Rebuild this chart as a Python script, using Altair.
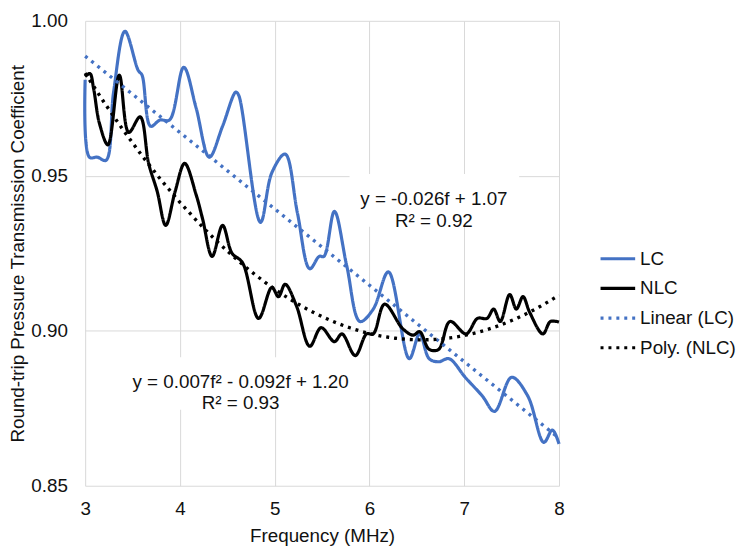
import altair as alt
import pandas as pd

# Frequency (MHz) and coefficient values
lc_f = [3.00, 3.045, 3.13, 3.22, 3.30, 3.42, 3.56, 3.60, 3.69, 3.79, 3.89, 4.04, 4.17, 4.31,
        4.45, 4.59, 4.62, 4.85, 4.97, 5.11, 5.24, 5.37, 5.47, 5.52, 5.63, 5.76, 5.90, 6.04,
        6.20, 6.42, 6.53, 6.63, 6.73, 6.84, 7.01, 7.19, 7.32, 7.50, 7.67, 7.84, 7.93, 8.00]
lc_v = [0.981, 0.956, 0.956, 0.955, 0.977, 0.9966, 0.984, 0.9825, 0.966, 0.968, 0.968, 0.985,
        0.972, 0.956, 0.966, 0.977, 0.976, 0.935, 0.951, 0.957, 0.938, 0.920, 0.924, 0.924,
        0.9385, 0.921, 0.903, 0.907, 0.919, 0.891, 0.899, 0.891, 0.890, 0.891, 0.885, 0.879,
        0.874, 0.885, 0.879, 0.864, 0.868, 0.8635]

nlc_f = [3.00, 3.05, 3.09, 3.15, 3.24, 3.36, 3.46, 3.58, 3.67, 3.76, 3.85, 3.95, 4.05, 4.17,
         4.24, 4.34, 4.45, 4.55, 4.66, 4.83, 4.97, 5.04, 5.11, 5.23, 5.37, 5.49, 5.63, 5.71,
         5.85, 5.97, 6.04, 6.16, 6.35, 6.46, 6.53, 6.63, 6.73, 6.85, 7.02, 7.14, 7.24, 7.31,
         7.38, 7.48, 7.55, 7.62, 7.69, 7.83, 7.91, 8.00]
nlc_v = [0.982, 0.983, 0.978, 0.967, 0.960, 0.9825, 0.964, 0.969, 0.954, 0.945, 0.934, 0.945,
         0.954, 0.944, 0.936, 0.924, 0.934, 0.925, 0.922, 0.904, 0.914, 0.911, 0.915, 0.908,
         0.895, 0.901, 0.8965, 0.899, 0.892, 0.899, 0.899, 0.9086, 0.9007, 0.8986, 0.8997,
         0.894, 0.894, 0.903, 0.899, 0.904, 0.904, 0.907, 0.903, 0.9117, 0.907, 0.911, 0.906,
         0.899, 0.903, 0.9028]

series_names = ["LC", "NLC", "Linear (LC)", "Poly. (NLC)"]
series_colors = ["#4472C4", "#000000", "#4472C4", "#000000"]
x_ticks = [3, 4, 5, 6, 7, 8]
y_ticks = [0.85, 0.90, 0.95, 1.00]

ann_text = [["y = -0.026f + 1.07", "R\u00b2 = 0.92"],
            ["y = 0.007f\u00b2  - 0.092f + 1.20", "R\u00b2 = 0.93"]]

df = pd.concat([
    pd.DataFrame({"f": lc_f, "v": lc_v, "series": "LC"}),
    pd.DataFrame({"f": nlc_f, "v": nlc_v, "series": "NLC"}),
])

FONT = "Liberation Sans"
FS = 19

x_scale = alt.Scale(domain=[3, 8], nice=False, zero=False)
y_scale = alt.Scale(domain=[0.85, 1.0], nice=False, zero=False)

x_axis = alt.Axis(values=x_ticks, format="d", labelFlush=False,
                  title="Frequency (MHz)", labelPadding=14, titlePadding=8)
y_axis = alt.Axis(values=y_ticks, format=".2f", labelFlush=False,
                  title="Round-trip Pressure Transmission Coefficient",
                  labelPadding=18, titlePadding=3)

color_enc = alt.Color("series:N", scale=alt.Scale(domain=series_names, range=series_colors),
                      legend=alt.Legend(orient="none", legendX=519, legendY=221, title=None,
                                        symbolType="stroke", symbolSize=1225,
                                        symbolStrokeWidth=3.2, labelFontSize=FS,
                                        labelFont=FONT, labelColor="#111111",
                                        labelOffset=3, rowPadding=0))
dash_enc = alt.StrokeDash("series:N",
                          scale=alt.Scale(domain=series_names,
                                          range=[[1, 0], [1, 0], [3, 5], [3, 5]]),
                          legend=None)

ann = pd.DataFrame({
    "x": [6.68, 4.64], "y": [0.9425, 0.8836],
    "x1": [5.79, 3.35], "x2": [7.58, 5.93],
    "y1": [0.9506, 0.8915], "y2": [0.9336, 0.8745],
    "text": ann_text,
})
boxes = alt.Chart(ann).mark_rect(fill="white").encode(
    x=alt.X("x1:Q", scale=x_scale, axis=x_axis), x2="x2:Q",
    y=alt.Y("y1:Q", scale=y_scale, axis=y_axis), y2="y2:Q")

base = alt.Chart(df)

lines = base.mark_line(interpolate="catmull-rom", strokeWidth=3.2).encode(
    x=alt.X("f:Q", scale=x_scale, axis=x_axis),
    y=alt.Y("v:Q", scale=y_scale, axis=y_axis),
    color=color_enc, strokeDash=dash_enc)

lin = base.transform_filter(alt.datum.series == "LC").transform_regression(
    "f", "v", method="linear", extent=[3, 8]
).transform_calculate(series='"Linear (LC)"').mark_line(strokeWidth=3.4).encode(
    x="f:Q", y="v:Q", color=alt.Color("series:N"), strokeDash=alt.StrokeDash("series:N"))

poly = base.transform_filter(alt.datum.series == "NLC").transform_regression(
    "f", "v", method="poly", order=2, extent=[3, 8]
).transform_calculate(series='"Poly. (NLC)"').mark_line(strokeWidth=3.4).encode(
    x="f:Q", y="v:Q", color=alt.Color("series:N"), strokeDash=alt.StrokeDash("series:N"))

texts = alt.Chart(ann).mark_text(font=FONT, fontSize=FS, align="center", baseline="middle",
                                 lineHeight=22, color="#111111").encode(
    x="x:Q", y="y:Q", text="text")

chart = alt.layer(boxes, lines, lin, poly, texts).properties(
    width=479, height=470,
    autosize=alt.AutoSizeParams(type="none"),
    padding={"left": 78, "top": 10, "right": 185, "bottom": 65},
).configure_view(stroke=None).configure_axis(
    grid=True, gridColor="#d9d9d9", gridWidth=1, domain=False, ticks=False,
    labelFont=FONT, labelFontSize=FS, labelColor="#111111",
    titleFont=FONT, titleFontSize=FS, titleFontWeight="normal", titleColor="#111111",
)

chart.save("out.html", embed_options={"renderer": "svg", "actions": False})
